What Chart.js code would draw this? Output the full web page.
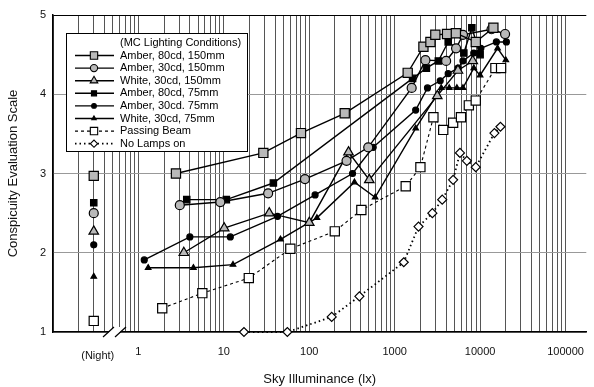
<!DOCTYPE html>
<html lang="en">
<head>
  <meta charset="UTF-8" />
  <title>Conspicuity Evaluation Scale</title>
  <script src="https://cdn.jsdelivr.net/npm/chart.js"></script>
  <style>
    html, body { margin: 0; padding: 0; background: #fff; }
    #wrap { width: 594px; height: 387px; }
  </style>
</head>
<body>
  <div id="wrap"><canvas id="myChart" width="594" height="387"></canvas></div>
  <script>
    // night readings are drawn in a column left of the 1 lx mark
    const nightX = 0.3;
    const decadeLabels = [1, 10, 100, 1000, 10000, 100000];

    // Amber, 80cd, 150mm
    const amber80LNight = 2.97;
    const amber80LLux = [2.75, 29, 80, 260, 1420, 2170, 2620, 2990, 4100, 5200, 8900, 14300];
    const amber80LVal = [3.00, 3.26, 3.51, 3.76, 4.27, 4.60, 4.66, 4.75, 4.76, 4.77, 4.66, 4.84];

    // Amber, 30cd, 150mm
    const amber30LNight = 2.50;
    const amber30LLux = [3.05, 9.1, 33, 89, 273, 490, 1580, 2290, 4000, 5230, 6300, 13600, 19600];
    const amber30LVal = [2.60, 2.64, 2.75, 2.93, 3.16, 3.33, 4.08, 4.43, 4.42, 4.58, 4.75, 4.82, 4.76];

    // White, 30cd, 150mm
    const white30LNight = 2.27;
    const white30LLux = [3.4, 10.1, 34, 100, 288, 504, 3150, 5500, 8200];
    const white30LVal = [2.00, 2.31, 2.50, 2.38, 3.27, 2.92, 3.98, 4.30, 4.42];

    // Amber, 80cd, 75mm
    const amber80SNight = 2.63;
    const amber80SLux = [3.68, 10.7, 38, 1620, 2350, 3240, 4230, 6450, 8000, 10000];
    const amber80SVal = [2.67, 2.67, 2.88, 4.20, 4.33, 4.42, 4.66, 4.52, 4.84, 4.50];

    // Amber, 30cd. 75mm
    const amber30SNight = 2.10;
    const amber30SLux = [1.17, 4.0, 11.9, 42.5, 117, 321, 560, 1760, 2420, 3410, 4230, 5510, 6300, 8430, 10200, 15500, 20300];
    const amber30SVal = [1.91, 2.20, 2.20, 2.46, 2.73, 3.00, 3.33, 3.80, 4.08, 4.17, 4.26, 4.33, 4.42, 4.52, 4.58, 4.66, 4.66];

    // White, 30cd, 75mm
    const white30SNight = 1.70;
    const white30SLux = [1.3, 4.4, 12.8, 46, 123, 338, 590, 1760, 3510, 4350, 5350, 6300, 8430, 10000, 16000, 20000];
    const white30SVal = [1.81, 1.81, 1.85, 2.17, 2.44, 2.89, 2.70, 3.57, 4.08, 4.08, 4.08, 4.08, 4.33, 4.24, 4.58, 4.43];

    // Passing Beam
    const passingNight = 1.14;
    const passingLux = [1.9, 5.6, 19.6, 60, 199, 407, 1346, 2000, 2840, 3700, 4830, 5970, 7380, 8890, 15100, 17600];
    const passingVal = [1.30, 1.49, 1.68, 2.05, 2.27, 2.54, 2.84, 3.08, 3.71, 3.55, 3.64, 3.71, 3.86, 3.92, 4.33, 4.33];

    // No Lamps on
    const noLampLux = [17.2, 55.4, 183, 386, 1277, 1900, 2760, 3600, 4830, 5810, 7000, 8890, 14700, 17300];
    const noLampVal = [1.00, 1.00, 1.19, 1.45, 1.88, 2.33, 2.50, 2.67, 2.92, 3.26, 3.16, 3.08, 3.51, 3.59];

    const FONT = '"Liberation Sans", Arial, Helvetica, sans-serif';
    const GREY = "#b9b9b9";

    // night point, a gap, then the daytime points
    function buildData(night, lux, vals) {
      const pts = [];
      if (night !== null) {
        pts.push({ x: nightX, y: night });
        pts.push({ x: 0.5, y: null });
      }
      for (let i = 0; i < lux.length; i++) {
        pts.push({ x: lux[i], y: vals[i] });
      }
      return pts;
    }

    function series(label, data, style, radius, fill, dash, lineW) {
      return {
        label: label,
        data: data,
        pointStyle: style,
        pointRadius: radius,
        pointHoverRadius: radius,
        pointBackgroundColor: fill,
        pointBorderColor: "#000",
        pointBorderWidth: 1.2,
        borderColor: "#000",
        borderWidth: lineW,
        borderDash: dash,
        fill: false,
        tension: 0,
        clip: false,
      };
    }

    const datasets = [
      series("Amber, 80cd, 150mm", buildData(amber80LNight, amber80LLux, amber80LVal), "rect", 6.5, GREY, [], 1.4),
      series("Amber, 30cd, 150mm", buildData(amber30LNight, amber30LLux, amber30LVal), "circle", 4.5, GREY, [], 1.4),
      series("White, 30cd, 150mm", buildData(white30LNight, white30LLux, white30LVal), "triangle", 5.5, GREY, [], 1.4),
      series("Amber, 80cd, 75mm", buildData(amber80SNight, amber80SLux, amber80SVal), "rect", 4.5, "#000", [], 1.4),
      series("Amber, 30cd. 75mm", buildData(amber30SNight, amber30SLux, amber30SVal), "circle", 3, "#000", [], 1.4),
      series("White, 30cd, 75mm", buildData(white30SNight, white30SLux, white30SVal), "triangle", 3.2, "#000", [], 1.4),
      series("Passing Beam", buildData(passingNight, passingLux, passingVal), "rect", 6.5, "#fff", [3, 3], 1.1),
      series("No Lamps on", buildData(null, noLampLux, noLampVal), "rectRot", 4.5, "#fff", [1.5, 3], 1.8),
    ];

    // simple marker drawing for the boxed legend
    function drawMarker(ctx, style, r, x, y) {
      ctx.beginPath();
      if (style === "rect") {
        const s = r * Math.SQRT1_2;
        ctx.rect(x - s, y - s, 2 * s, 2 * s);
      } else if (style === "circle") {
        ctx.arc(x, y, r, 0, Math.PI * 2);
      } else if (style === "triangle") {
        ctx.moveTo(x, y - r);
        ctx.lineTo(x + r * 0.866, y + r * 0.5);
        ctx.lineTo(x - r * 0.866, y + r * 0.5);
        ctx.closePath();
      } else if (style === "rectRot") {
        ctx.moveTo(x - r, y);
        ctx.lineTo(x, y - r);
        ctx.lineTo(x + r, y);
        ctx.lineTo(x, y + r);
        ctx.closePath();
      }
      ctx.fill();
      ctx.stroke();
    }

    const boxedLegend = {
      id: "boxedLegend",
      afterDatasetsDraw(chart) {
        const ctx = chart.ctx;
        ctx.save();
        ctx.fillStyle = "#fff";
        ctx.fillRect(66, 33, 182, 119);
        ctx.strokeStyle = "#000";
        ctx.lineWidth = 1;
        ctx.strokeRect(66.5, 33.5, 181, 118);
        ctx.font = "11px " + FONT;
        ctx.textBaseline = "middle";
        ctx.fillStyle = "#000";
        ctx.fillText("(MC Lighting Conditions)", 120, 43);
        chart.data.datasets.forEach((ds, i) => {
          const y = 55.5 + i * 12.6;
          ctx.beginPath();
          ctx.setLineDash(ds.borderDash);
          ctx.lineWidth = ds.borderWidth;
          ctx.strokeStyle = "#000";
          ctx.moveTo(75, y);
          ctx.lineTo(114, y);
          ctx.stroke();
          ctx.setLineDash([]);
          ctx.lineWidth = 1.1;
          ctx.fillStyle = ds.pointBackgroundColor;
          drawMarker(ctx, ds.pointStyle, Math.max(ds.pointRadius * 0.8, 2.4), 94, y);
          ctx.fillStyle = "#000";
          ctx.fillText(ds.label, 120, y);
        });
        ctx.restore();
      },
      afterDraw(chart) {
        const ctx = chart.ctx;
        const xs = chart.scales.x;
        const bottom = chart.chartArea.bottom;
        ctx.save();
        // axis break mark
        ctx.fillStyle = "#fff";
        ctx.beginPath();
        ctx.moveTo(105, bottom + 4);
        ctx.lineTo(114, bottom - 5);
        ctx.lineTo(125, bottom - 5);
        ctx.lineTo(116, bottom + 4);
        ctx.closePath();
        ctx.fill();
        ctx.strokeStyle = "#000";
        ctx.lineWidth = 1.2;
        ctx.beginPath();
        ctx.moveTo(103, bottom + 5);
        ctx.lineTo(114, bottom - 5);
        ctx.moveTo(115, bottom + 5);
        ctx.lineTo(126, bottom - 5);
        ctx.stroke();
        // night column label
        ctx.fillStyle = "#111";
        ctx.font = "11px " + FONT;
        ctx.textAlign = "center";
        ctx.textBaseline = "middle";
        ctx.fillText("(Night)", xs.getPixelForValue(nightX) + 4, 356);
        ctx.restore();
      },
    };

    const ctx01 = document.getElementById("myChart");
    const mychart = new Chart(ctx01, {
      type: "line",
      data: { datasets: datasets },
      options: {
        responsive: false,
        animation: false,
        devicePixelRatio: 1,
        layout: { padding: { top: 15, right: 0, bottom: 0, left: 0 } },
        plugins: {
          legend: { display: false },
          tooltip: { enabled: false },
        },
        scales: {
          x: {
            type: "logarithmic",
            min: 0.1,
            max: 175000,
            afterBuildTicks: (scale) => {
              const ticks = [];
              for (let e = -1; e <= 5; e++) {
                for (let m = 1; m <= 9; m++) {
                  const v = parseFloat((m * Math.pow(10, e)).toPrecision(3));
                  if (v >= 0.1 && v <= 175000) ticks.push({ value: v });
                }
              }
              scale.ticks = ticks;
            },
            afterFit: (scale) => {
              scale.height = 55;
              scale.paddingLeft = 0;
              scale.paddingRight = 0;
            },
            ticks: {
              autoSkip: false,
              maxRotation: 0,
              minRotation: 0,
              padding: 13,
              color: "#111",
              font: { family: FONT, size: 11 },
              callback: (value) => (decadeLabels.includes(value) ? String(value) : ""),
            },
            grid: {
              color: "#555",
              lineWidth: 1,
              drawTicks: false,
            },
            border: { color: "#000", width: 1.5 },
            title: {
              display: true,
              text: "Sky Illuminance (lx)",
              color: "#111",
              font: { family: FONT, size: 13 },
              padding: { top: 0, bottom: 0 },
            },
          },
          y: {
            min: 1,
            max: 5,
            afterFit: (scale) => {
              scale.width = 53;
              scale.paddingTop = 0;
              scale.paddingBottom = 0;
            },
            ticks: {
              stepSize: 1,
              padding: 7,
              color: "#111",
              font: { family: FONT, size: 11 },
            },
            grid: {
              color: (c) => (c.tick && c.tick.value === 5 ? "#000" : "#999"),
              lineWidth: 1,
              drawTicks: false,
            },
            border: { color: "#000", width: 1.5 },
            title: {
              display: true,
              text: "Conspicuity Evaluation Scale",
              color: "#111",
              font: { family: FONT, size: 13 },
              padding: { top: 6, bottom: 0 },
            },
          },
        },
      },
      plugins: [boxedLegend],
    });
  </script>
</body>
</html>
